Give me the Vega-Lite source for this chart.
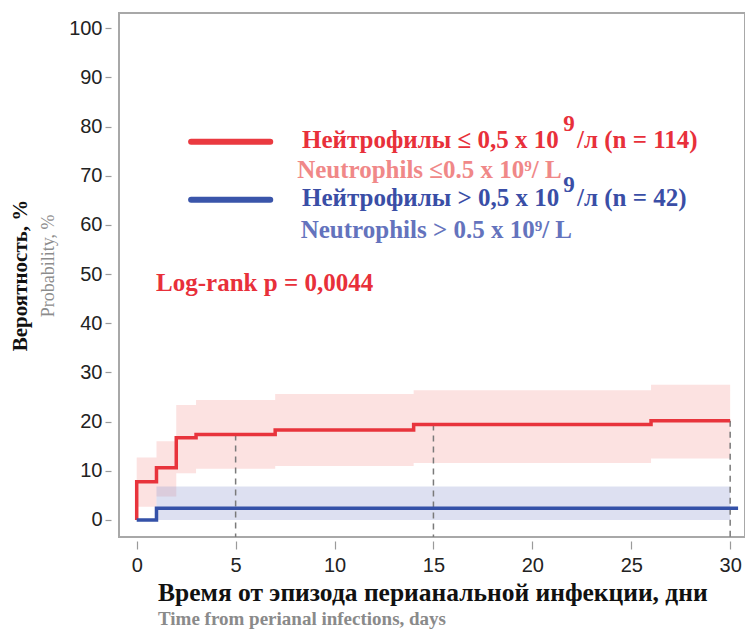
{
  "$schema": "https://vega.github.io/schema/vega-lite/v6.json",
  "width": 626,
  "height": 524,
  "autosize": {"type": "none"},
  "padding": {"left": 119, "top": 13, "right": 0, "bottom": 96},
  "background": "white",
  "config": {
    "view": {"stroke": "#a8a8a8", "strokeWidth": 2},
    "axis": {"domain": false, "grid": false, "tickColor": "#9a9a9a", "tickWidth": 1.2, "labelFont": "Liberation Sans", "labelFontSize": 20, "labelColor": "#222222"}
  },
  "title": {
    "text": "Время от эпизода перианальной инфекции, дни",
    "subtitle": "Time from perianal infections, days",
    "orient": "bottom",
    "anchor": "start",
    "frame": "group",
    "dx": 39,
    "offset": 6,
    "font": "Liberation Serif",
    "fontSize": 25.5,
    "fontWeight": "bold",
    "color": "#111111",
    "subtitleFont": "Liberation Serif",
    "subtitleFontSize": 19,
    "subtitleFontWeight": "bold",
    "subtitleColor": "#8a8a8a",
    "subtitlePadding": 3
  },
  "datasets": {
    "one": [{"k": 1}],
    "redCurve": [
      {"t": 0, "p": 0}, {"t": 0, "p": 7.8}, {"t": 1, "p": 10.6}, {"t": 2, "p": 16.7},
      {"t": 3, "p": 17.4}, {"t": 7, "p": 18.3}, {"t": 14, "p": 19.4}, {"t": 26, "p": 20.2}, {"t": 30, "p": 20.2}
    ],
    "blueCurve": [
      {"t": 0, "p": 0}, {"t": 1, "p": 2.4}, {"t": 30.4, "p": 2.4}
    ],
    "redBand": [
      {"t": 0, "p": 2.7, "hi": 12.7}, {"t": 1, "p": 4.8, "hi": 16.0}, {"t": 2, "p": 9.5, "hi": 23.4},
      {"t": 3, "p": 10.4, "hi": 24.4}, {"t": 7, "p": 11.0, "hi": 25.6}, {"t": 14, "p": 11.6, "hi": 26.4},
      {"t": 26, "p": 12.5, "hi": 27.5}, {"t": 30, "p": 12.5, "hi": 27.5}
    ],
    "blueBand": [
      {"t": 1, "p": 0, "hi": 6.8}, {"t": 30, "p": 0, "hi": 6.8}
    ],
    "marks": [
      {"t": 5, "p": 17.4}, {"t": 15, "p": 19.4}, {"t": 30, "p": 20.2}
    ]
  },
  "layer": [
    {"data": {"name": "redBand"}, "mark": {"type": "area", "interpolate": "step-after", "color": "#f7a8a4", "opacity": 0.33},
      "encoding": {
        "x": {"field": "t", "type": "quantitative", "scale": {"domain": [-0.895, 30.75], "nice": false, "zero": false},
          "axis": {"values": [0, 5, 10, 15, 20, 25, 30], "offset": 4, "tickSize": 8, "labelPadding": 6, "title": null}},
        "y": {"field": "p", "type": "quantitative", "scale": {"domain": [-3.46, 103.1], "nice": false, "zero": false},
          "axis": {"values": [0, 10, 20, 30, 40, 50, 60, 70, 80, 90, 100], "offset": 8, "tickSize": 6, "labelPadding": 3,
            "title": "Вероятность, %", "titleFont": "Liberation Serif", "titleFontSize": 21, "titleFontWeight": "bold", "titleColor": "#111111", "titlePadding": 38}},
        "y2": {"field": "hi"}}},
    {"data": {"name": "blueBand"}, "mark": {"type": "area", "interpolate": "step-after", "color": "#8f97d0", "opacity": 0.3},
      "encoding": {"x": {"field": "t", "type": "quantitative"}, "y": {"field": "p", "type": "quantitative"}, "y2": {"field": "hi"}}},
    {"data": {"name": "marks"}, "mark": {"type": "rule", "color": "#7a7a7a", "strokeDash": [6, 5], "strokeWidth": 1.5},
      "encoding": {"x": {"field": "t", "type": "quantitative"}, "y": {"field": "p", "type": "quantitative"}, "y2": {"datum": -3.46}}},
    {"data": {"name": "redCurve"}, "mark": {"type": "line", "interpolate": "step-after", "color": "#e8343c", "strokeWidth": 3.5},
      "encoding": {"x": {"field": "t", "type": "quantitative"}, "y": {"field": "p", "type": "quantitative"}}},
    {"data": {"name": "blueCurve"}, "mark": {"type": "line", "interpolate": "step-after", "color": "#3451a8", "strokeWidth": 3.5},
      "encoding": {"x": {"field": "t", "type": "quantitative"}, "y": {"field": "p", "type": "quantitative"}}},
    {"data": {"name": "one"}, "mark": {"type": "rule", "color": "#ea3a40", "strokeWidth": 6, "strokeCap": "round"},
      "encoding": {"x": {"datum": 2.75}, "x2": {"datum": 6.75}, "y": {"datum": 76.9}}},
    {"data": {"name": "one"}, "mark": {"type": "rule", "color": "#3a55aa", "strokeWidth": 6, "strokeCap": "round"},
      "encoding": {"x": {"datum": 2.75}, "x2": {"datum": 6.75}, "y": {"datum": 65.1}}},
    {"data": {"name": "one"}, "mark": {"type": "text", "text": "Нейтрофилы ≤ 0,5 x 10", "font": "Liberation Serif", "fontSize": 25, "fontWeight": "bold", "color": "#e8303a", "align": "left", "baseline": "alphabetic"},
      "encoding": {"x": {"datum": 8.36}, "y": {"datum": 75.6}}},
    {"data": {"name": "one"}, "mark": {"type": "text", "text": "9", "font": "Liberation Serif", "fontSize": 23, "fontWeight": "bold", "color": "#e8303a", "align": "left", "baseline": "alphabetic"},
      "encoding": {"x": {"datum": 21.56}, "y": {"datum": 79.2}}},
    {"data": {"name": "one"}, "mark": {"type": "text", "text": "/л (n = 114)", "font": "Liberation Serif", "fontSize": 25, "fontWeight": "bold", "color": "#e8303a", "align": "left", "baseline": "alphabetic"},
      "encoding": {"x": {"datum": 22.26}, "y": {"datum": 75.6}}},
    {"data": {"name": "one"}, "mark": {"type": "text", "text": "Neutrophils ≤0.5 x 10⁹/ L", "font": "Liberation Serif", "fontSize": 25, "fontWeight": "bold", "color": "#f08888", "align": "left", "baseline": "alphabetic"},
      "encoding": {"x": {"datum": 8.11}, "y": {"datum": 69.45}}},
    {"data": {"name": "one"}, "mark": {"type": "text", "text": "Нейтрофилы > 0,5 x 10", "font": "Liberation Serif", "fontSize": 25, "fontWeight": "bold", "color": "#3a4ea6", "align": "left", "baseline": "alphabetic"},
      "encoding": {"x": {"datum": 8.36}, "y": {"datum": 63.76}}},
    {"data": {"name": "one"}, "mark": {"type": "text", "text": "9", "font": "Liberation Serif", "fontSize": 23, "fontWeight": "bold", "color": "#3a4ea6", "align": "left", "baseline": "alphabetic"},
      "encoding": {"x": {"datum": 21.56}, "y": {"datum": 66.8}}},
    {"data": {"name": "one"}, "mark": {"type": "text", "text": "/л (n = 42)", "font": "Liberation Serif", "fontSize": 25, "fontWeight": "bold", "color": "#3a4ea6", "align": "left", "baseline": "alphabetic"},
      "encoding": {"x": {"datum": 22.26}, "y": {"datum": 63.76}}},
    {"data": {"name": "one"}, "mark": {"type": "text", "text": "Neutrophils > 0.5 x 10⁹/ L", "font": "Liberation Serif", "fontSize": 25, "fontWeight": "bold", "color": "#6473bd", "align": "left", "baseline": "alphabetic"},
      "encoding": {"x": {"datum": 8.29}, "y": {"datum": 57.25}}},
    {"data": {"name": "one"}, "mark": {"type": "text", "text": "Log-rank p = 0,0044", "font": "Liberation Serif", "fontSize": 25, "fontWeight": "bold", "color": "#e8303a", "align": "left", "baseline": "alphabetic"},
      "encoding": {"x": {"datum": 0.98}, "y": {"datum": 46.57}}},
    {"data": {"name": "one"}, "mark": {"type": "text", "text": "Probability, %", "font": "Liberation Serif", "fontSize": 18, "color": "#8c8c8c", "align": "center", "baseline": "middle", "angle": 270},
      "encoding": {"x": {"datum": -4.43}, "y": {"datum": 51.66}}}
  ]
}
